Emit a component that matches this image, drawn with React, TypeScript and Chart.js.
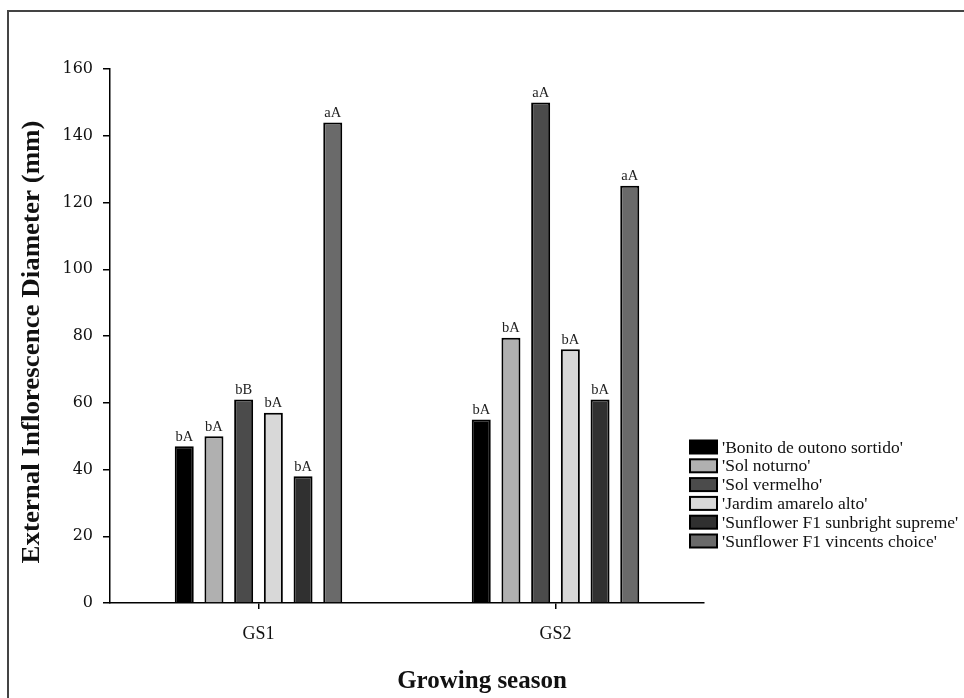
import React, { useEffect, useRef } from "react";
import { Chart, registerables } from "chart.js";

Chart.register(...registerables);

const categories = ["GS1", "GS2"];
const seriesNames = [
  "'Bonito de outono sortido'",
  "'Sol noturno'",
  "'Sol vermelho'",
  "'Jardim amarelo alto'",
  "'Sunflower F1 sunbright supreme'",
  "'Sunflower F1 vincents choice'",
];
const bonito = [47, 55];
const solNoturno = [50, 79.5];
const solVermelho = [61, 150];
const jardim = [57, 76];
const sunbright = [38, 61];
const vincents = [144, 125];

const bonitoLetters = ["bA", "bA"];
const solNoturnoLetters = ["bA", "bA"];
const solVermelhoLetters = ["bB", "aA"];
const jardimLetters = ["bA", "bA"];
const sunbrightLetters = ["bA", "bA"];
const vincentsLetters = ["aA", "aA"];

const yTicks = [0, 20, 40, 60, 80, 100, 120, 140, 160];
const yTitle = "External Inflorescence Diameter (mm)";
const xTitle = "Growing season";

const seriesValues = [bonito, solNoturno, solVermelho, jardim, sunbright, vincents];
const seriesLetters = [bonitoLetters, solNoturnoLetters, solVermelhoLetters, jardimLetters, sunbrightLetters, vincentsLetters];
const seriesColors = ["#000000", "#b0b0b0", "#4b4b4b", "#d8d8d8", "#303030", "#6a6a6a"];

const SERIF = "'Liberation Serif', 'Times New Roman', serif";

const decorPlugin = {
  id: "decor",
  beforeDraw(chart: any) {
    const { ctx, width, height } = chart;
    ctx.save();
    ctx.fillStyle = "#ffffff";
    ctx.fillRect(0, 0, width, height);
    ctx.strokeStyle = "#444444";
    ctx.lineWidth = 2;
    ctx.beginPath();
    ctx.moveTo(8, 11);
    ctx.lineTo(width, 11);
    ctx.moveTo(8, 10);
    ctx.lineTo(8, height);
    ctx.stroke();
    ctx.restore();
  },
  afterDraw(chart: any) {
    const { ctx } = chart;
    ctx.save();
    // bar letters
    ctx.fillStyle = "#222222";
    ctx.font = `14.5px ${SERIF}`;
    ctx.textAlign = "center";
    ctx.textBaseline = "bottom";
    chart.data.datasets.forEach((ds: any, di: number) => {
      const meta = chart.getDatasetMeta(di);
      meta.data.forEach((el: any, i: number) => {
        ctx.fillText(ds.letters[i], el.x, el.y - 2);
      });
    });
    // y title
    ctx.fillStyle = "#111111";
    ctx.font = `bold 25px ${SERIF}`;
    ctx.textAlign = "center";
    ctx.textBaseline = "middle";
    const w = ctx.measureText(yTitle).width;
    const target = 443;
    ctx.save();
    ctx.translate(33, 342);
    ctx.rotate(-Math.PI / 2);
    ctx.scale(target / w, 1);
    ctx.fillText(yTitle, 0, 0);
    ctx.restore();
    // x title
    ctx.font = `bold 25px ${SERIF}`;
    ctx.fillText(xTitle, 482, 682);
    // legend
    const lx = 690;
    const ly = 447;
    const rowH = 18.8;
    ctx.font = `17.5px ${SERIF}`;
    ctx.textAlign = "left";
    ctx.textBaseline = "middle";
    chart.data.datasets.forEach((ds: any, di: number) => {
      const cy = ly + di * rowH;
      ctx.fillStyle = ds.backgroundColor;
      ctx.fillRect(lx, cy - 6.5, 27, 13);
      ctx.strokeStyle = "#000000";
      ctx.lineWidth = 2;
      ctx.strokeRect(lx, cy - 6.5, 27, 13);
      ctx.fillStyle = "#111111";
      ctx.fillText(ds.label, lx + 32, cy + 1);
    });
    ctx.restore();
  },
};

export default function App() {
  const ref = useRef<HTMLCanvasElement | null>(null);
  useEffect(() => {
    if (!ref.current) return;
    const chart = new Chart(ref.current, {
      type: "bar",
      data: {
        labels: categories,
        datasets: seriesNames.map((name, i) => ({
          label: name,
          data: seriesValues[i],
          letters: seriesLetters[i],
          backgroundColor: seriesColors[i],
          borderColor: "#000000",
          borderWidth: 2,
          categoryPercentage: 0.6,
          barPercentage: 0.64,
        })) as any,
      },
      options: {
        responsive: false,
        animation: false,
        devicePixelRatio: 1,
        layout: { padding: { top: 69, right: 260, left: 0, bottom: 0 } },
        plugins: {
          legend: { display: false },
          tooltip: { enabled: false },
          title: { display: false },
        },
        scales: {
          x: {
            grid: {
              display: true,
              offset: false,
              drawOnChartArea: false,
              drawTicks: true,
              tickLength: 6,
              color: "#000000",
              lineWidth: 1.5,
            },
            border: { display: true, color: "#000000", width: 1.5 },
            ticks: {
              color: "#111111",
              font: { family: SERIF, size: 18 },
              padding: 14,
            },
            afterFit(scale: any) {
              scale.height = 95;
            },
          },
          y: {
            min: 0,
            max: 160,
            afterBuildTicks(scale: any) {
              scale.ticks = yTicks.map((v) => ({ value: v }));
            },
            grid: {
              display: true,
              drawOnChartArea: false,
              drawTicks: true,
              tickLength: 7,
              color: "#000000",
              lineWidth: 1.5,
            },
            border: { display: true, color: "#000000", width: 1.5 },
            ticks: {
              color: "#111111",
              font: { family: "'DejaVu Serif', serif", size: 16 },
              padding: 10,
            },
            afterFit(scale: any) {
              scale.width = 110;
            },
          },
        },
      },
      plugins: [decorPlugin],
    });
    return () => chart.destroy();
  }, []);
  return (
    <div style={{ position: "fixed", left: 0, top: 0, width: 964, height: 698 }}>
      <canvas ref={ref} width={964} height={698} />
    </div>
  );
}
